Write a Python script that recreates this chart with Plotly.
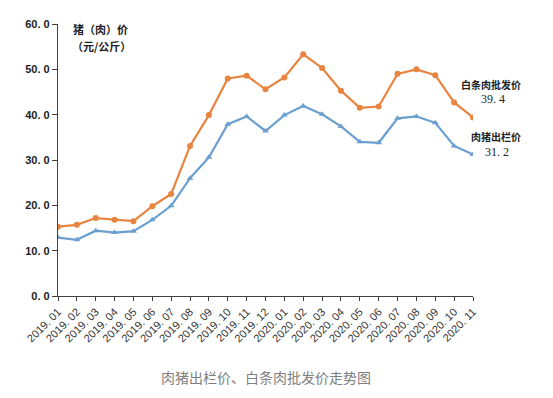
import plotly.graph_objects as go

months = ["2019. 01","2019. 02","2019. 03","2019. 04","2019. 05","2019. 06","2019. 07","2019. 08",
          "2019. 09","2019. 10","2019. 11","2019. 12","2020. 01","2020. 02","2020. 03","2020. 04",
          "2020. 05","2020. 06","2020. 07","2020. 08","2020. 09","2020. 10","2020. 11"]
wholesale = [15.3,15.7,17.2,16.8,16.5,19.8,22.5,33.1,39.9,48.0,48.6,45.6,48.2,53.3,50.3,45.3,
             41.5,41.8,49.0,50.0,48.7,42.7,39.4]
hog = [12.9,12.4,14.4,14.0,14.3,16.8,19.9,26.0,30.6,37.9,39.6,36.4,39.9,41.9,40.1,37.4,
       34.0,33.8,39.2,39.6,38.2,33.1,31.2]
yticks = [0,10,20,30,40,50,60]
yticktext = ["0. 0","10. 0","20. 0","30. 0","40. 0","50. 0","60. 0"]

orange = "#E8843F"
blue = "#6A9FCF"
x = list(range(len(months)))

# page offset of the figure (browser body margin)
OFF = 8
W, H = 553 - OFF, 398 - OFF
L, R, T, B = 58 - OFF, 80, 24 - OFF, 102   # plot area: page x 58..473, y 24..296
PW, PH = W - L - R, H - T - B

def px(xp):
    return (xp - 58) / PW

def py(yp):
    return (296 - yp) / PH

fig = go.Figure()
fig.add_trace(go.Scatter(x=x, y=wholesale, mode="lines+markers", name="白条肉批发价",
                         line=dict(color=orange, width=2.2),
                         marker=dict(symbol="circle", size=6, color=orange)))
fig.add_trace(go.Scatter(x=x, y=hog, mode="lines+markers", name="肉猪出栏价",
                         line=dict(color=blue, width=2.2),
                         marker=dict(symbol="triangle-up", size=6, color=blue)))

cjk = "Noto Sans CJK SC"
fig.update_layout(
    width=W, height=H,
    margin=dict(l=L, r=R, t=T, b=B),
    paper_bgcolor="white", plot_bgcolor="white",
    showlegend=False,
    xaxis=dict(range=[0, 22], tickvals=x, ticktext=months, tickangle=-45, automargin=False,
               showgrid=False, zeroline=False, showline=True, linecolor="#404040", linewidth=1.3,
               ticks="outside", ticklen=4, tickcolor="#404040",
               tickfont=dict(family="Liberation Sans, Arial", size=11, color="#333333")),
    yaxis=dict(range=[0, 60], tickvals=yticks, ticktext=yticktext, automargin=False,
               showgrid=False, zeroline=False, showline=True, linecolor="#404040", linewidth=1.3,
               ticks="outside", ticklen=5, tickcolor="#404040",
               tickfont=dict(family="Liberation Sans, Arial", size=11, color="#222222", weight="bold")),
)

ann = [
    dict(text="<b>猪（肉）价</b>", x=71, y=29, size=11, fam=cjk),
    dict(text="<b>（元/公斤）</b>", x=70, y=46, size=11, fam=cjk),
    dict(text="<b>白条肉批发价</b>", x=459, y=84, size=10, fam=cjk),
    dict(text="39. 4", x=479, y=99, size=12, fam="Liberation Serif"),
    dict(text="<b>肉猪出栏价</b>", x=469, y=136, size=10, fam=cjk),
    dict(text="31. 2", x=483, y=152, size=12, fam="Liberation Serif"),
]
for a in ann:
    fig.add_annotation(text=a["text"], xref="paper", yref="paper",
                       x=px(a["x"]), y=py(a["y"]), align="left",
                       xanchor="left", yanchor="middle", showarrow=False,
                       font=dict(family=a["fam"], size=a["size"], color="#222222"))

fig.add_annotation(text="肉猪出栏价、白条肉批发价走势图", xref="paper", yref="paper",
                   x=px(266), y=py(377),
                   xanchor="center", yanchor="middle", showarrow=False,
                   font=dict(family=cjk, size=14, color="#808080"))

fig.write_html("out.html")
